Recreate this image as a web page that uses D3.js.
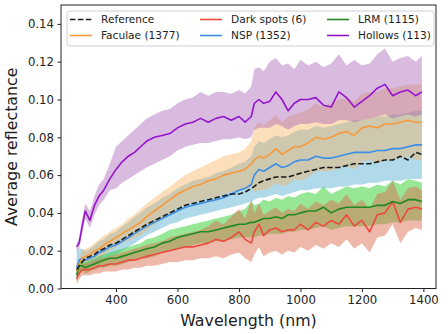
<!DOCTYPE html>
<html>
<head>
<meta charset="utf-8">
<script src="https://cdn.jsdelivr.net/npm/d3@7"></script>
<style>
  body { margin: 0; background: #fff; }
  svg { display: block; font-family: "DejaVu Sans", sans-serif; }
</style>
</head>
<body>
<script>
// wavelength grid (nm)
var wavelength = [272, 280, 290, 300, 315, 330, 345, 360, 380, 400, 420, 440, 460, 480, 500, 525, 550, 575, 600, 625, 650, 675, 700, 725, 750, 775, 800, 820, 840, 850, 865, 880, 900, 920, 940, 960, 980, 1000, 1025, 1050, 1075, 1100, 1125, 1150, 1175, 1200, 1225, 1250, 1275, 1300, 1325, 1350, 1375, 1395];

// mean spectra
var reference = [.010, .012, .014, .016, .017, .018, .020, .021, .023, .024, .026, .028, .030, .032, .034, .036, .038, .040, .042, .044, .045, .046, .047, .048, .049, .050, .050, .051, .053, .054, .056, .057, .058, .059, .059, .059, .060, .061, .062, .063, .064, .064, .064, .065, .066, .066, .066, .067, .068, .068, .070, .068, .072, .071];
var faculae = [.009, .013, .016, .017, .018, .020, .021, .023, .025, .027, .029, .031, .033, .035, .038, .041, .044, .047, .050, .052, .054, .055, .057, .058, .060, .061, .062, .063, .066, .068, .070, .069, .071, .074, .071, .073, .075, .075, .077, .080, .079, .080, .082, .083, .081, .085, .086, .085, .087, .087, .088, .089, .088, .088];
var darkSpots = [.005, .008, .010, .010, .010, .011, .012, .012, .013, .013, .014, .015, .015, .016, .017, .018, .019, .020, .021, .022, .022, .023, .024, .026, .025, .027, .030, .026, .024, .030, .034, .028, .031, .032, .030, .031, .031, .034, .031, .035, .033, .036, .034, .039, .033, .036, .030, .039, .040, .046, .035, .042, .043, .042];
var nsp = [.011, .015, .016, .015, .016, .017, .019, .020, .022, .023, .025, .027, .029, .031, .033, .035, .037, .039, .041, .043, .044, .045, .046, .047, .048, .050, .052, .053, .055, .060, .063, .062, .064, .066, .064, .065, .067, .068, .068, .070, .069, .069, .070, .071, .072, .072, .072, .073, .073, .074, .074, .075, .076, .076];
var lrm = [.007, .012, .012, .011, .012, .013, .014, .015, .016, .016, .017, .018, .019, .020, .021, .022, .024, .025, .027, .028, .029, .030, .030, .031, .032, .033, .034, .034, .035, .035, .036, .037, .037, .038, .037, .039, .039, .040, .041, .041, .043, .040, .042, .043, .043, .043, .043, .044, .044, .046, .045, .047, .047, .046];
var hollows = [.022, .024, .033, .041, .036, .044, .049, .052, .058, .063, .067, .070, .072, .075, .078, .080, .081, .082, .085, .087, .088, .090, .088, .090, .091, .089, .091, .088, .091, .098, .100, .098, .099, .104, .100, .094, .098, .100, .100, .101, .097, .096, .104, .101, .096, .099, .102, .106, .108, .102, .104, .105, .102, .104];

// spread of each class (lower / upper edge)
var faculaeLo = [.007, .010, .012, .013, .014, .016, .016, .018, .020, .022, .024, .025, .027, .028, .031, .034, .037, .040, .043, .044, .046, .046, .048, .048, .050, .051, .052, .052, .054, .051, .052, .052, .053, .056, .054, .055, .058, .057, .059, .062, .062, .062, .064, .065, .063, .067, .068, .066, .068, .068, .069, .070, .068, .068];
var faculaeHi = [.011, .016, .020, .021, .022, .024, .026, .028, .030, .032, .034, .037, .039, .042, .045, .048, .051, .054, .057, .060, .062, .064, .066, .068, .070, .071, .072, .074, .078, .085, .088, .086, .089, .092, .088, .091, .092, .093, .095, .098, .096, .098, .100, .101, .099, .103, .104, .104, .106, .106, .107, .108, .108, .108];
var darkSpotsLo = [.002, .005, .007, .007, .007, .008, .008, .009, .009, .009, .010, .010, .011, .011, .012, .012, .013, .014, .014, .015, .015, .016, .016, .017, .016, .018, .019, .016, .014, .018, .022, .017, .019, .020, .018, .020, .019, .022, .020, .023, .021, .024, .022, .026, .021, .024, .019, .027, .028, .034, .024, .030, .032, .031];
var darkSpotsHi = [.008, .011, .013, .013, .014, .015, .016, .016, .017, .018, .019, .020, .021, .022, .023, .024, .025, .027, .028, .029, .030, .031, .033, .036, .034, .038, .042, .037, .047, .040, .045, .039, .041, .043, .040, .042, .041, .045, .042, .046, .044, .047, .045, .050, .044, .047, .042, .050, .051, .057, .047, .053, .054, .052];
var nspLo = [.006, .009, .011, .011, .012, .013, .014, .015, .017, .018, .020, .022, .024, .026, .028, .030, .032, .034, .035, .037, .038, .039, .040, .041, .042, .043, .044, .045, .046, .047, .048, .048, .049, .050, .049, .050, .051, .052, .052, .053, .053, .053, .054, .054, .055, .055, .056, .056, .057, .057, .057, .058, .058, .058];
var nspHi = [.019, .021, .021, .020, .021, .023, .025, .026, .029, .030, .033, .035, .038, .040, .043, .045, .048, .050, .053, .055, .057, .058, .059, .061, .062, .064, .066, .067, .070, .075, .078, .077, .079, .081, .080, .081, .083, .084, .084, .086, .085, .086, .087, .088, .089, .089, .090, .091, .091, .092, .092, .093, .094, .094];
var lrmLo = [.004, .008, .009, .008, .009, .010, .011, .011, .012, .012, .013, .014, .015, .016, .016, .017, .019, .020, .021, .022, .023, .024, .024, .025, .025, .026, .027, .027, .027, .027, .028, .028, .029, .029, .029, .030, .030, .031, .031, .032, .033, .031, .032, .033, .033, .033, .033, .034, .034, .035, .035, .036, .036, .036];
var lrmHi = [.010, .015, .015, .014, .015, .016, .017, .018, .019, .020, .021, .022, .023, .024, .026, .027, .029, .031, .032, .033, .034, .035, .036, .037, .038, .039, .041, .042, .046, .044, .045, .047, .046, .048, .047, .049, .048, .050, .051, .050, .054, .050, .052, .054, .053, .054, .053, .055, .054, .057, .055, .058, .057, .056];
var hollowsLo = [.019, .021, .029, .037, .032, .039, .044, .047, .052, .053, .056, .058, .060, .062, .064, .066, .068, .070, .073, .075, .076, .077, .077, .078, .079, .079, .080, .079, .080, .084, .085, .085, .085, .087, .086, .084, .086, .087, .087, .088, .087, .087, .089, .089, .088, .089, .090, .091, .092, .090, .091, .092, .091, .092];
var hollowsHi = [.024, .027, .037, .045, .041, .049, .055, .058, .066, .075, .078, .081, .084, .087, .090, .092, .094, .095, .098, .100, .101, .104, .102, .104, .104, .103, .105, .103, .107, .116, .117, .115, .120, .122, .118, .119, .116, .121, .118, .120, .117, .119, .124, .118, .121, .118, .119, .124, .127, .120, .122, .123, .120, .123];

var yTicks = [0, 0.02, 0.04, 0.06, 0.08, 0.10, 0.12, 0.14];
var xTicks = [400, 600, 800, 1000, 1200, 1400];

var series = [
    {name: "Reference", mean: reference, color: "#1a1a1a", dash: "5.5,2.4"},
    {name: "Faculae (1377)", mean: faculae, lo: faculaeLo, hi: faculaeHi, color: "#f7993a", fill: "#f9b25a", op: 0.42},
    {name: "Dark spots (6)", mean: darkSpots, lo: darkSpotsLo, hi: darkSpotsHi, color: "#ee4a3c", fill: "#dc6a4e", op: 0.48},
    {name: "NSP (1352)", mean: nsp, lo: nspLo, hi: nspHi, color: "#3a8ee8", fill: "#7cc0dc", op: 0.6},
    {name: "LRM (1115)", mean: lrm, lo: lrmLo, hi: lrmHi, color: "#1f8a1f", fill: "#2fd02f", op: 0.5},
    {name: "Hollows (113)", mean: hollows, lo: hollowsLo, hi: hollowsHi, color: "#9414cc", fill: "#a55cb5", op: 0.42}
];

var width = 448,
    height = 334;
var margin = {top: 5, right: 12, bottom: 45.5, left: 61};

var svg = d3.select("body").append("svg")
    .attr("width", width)
    .attr("height", height);

var x = d3.scaleLinear()
    .domain([221, 1441])
    .range([margin.left, width - margin.right]);

var y = d3.scaleLinear()
    .domain([0, 0.15])
    .range([height - margin.bottom, margin.top]);

// bands first, lines on top
var bandOrder = [3, 1, 4, 2, 5];
bandOrder.forEach(function(i){
    var s = series[i];
    var area = d3.area()
        .x(function(d, k){ return x(wavelength[k]); })
        .y0(function(d, k){ return y(s.lo[k]); })
        .y1(function(d, k){ return y(s.hi[k]); });
    svg.append("path")
        .datum(s.mean)
        .attr("d", area)
        .attr("fill", s.fill)
        .attr("fill-opacity", s.op);
});

var line = d3.line()
    .x(function(d, k){ return x(wavelength[k]); })
    .y(function(d){ return y(d); });

var lineOrder = [2, 4, 3, 1, 0, 5];
lineOrder.forEach(function(i){
    var s = series[i];
    svg.append("path")
        .datum(s.mean)
        .attr("d", line)
        .attr("fill", "none")
        .attr("stroke", s.color)
        .attr("stroke-width", 1.6)
        .attr("stroke-linejoin", "round")
        .attr("stroke-dasharray", s.dash || null);
});

// axes
var xAxis = svg.append("g")
    .attr("transform", "translate(0," + (height - margin.bottom) + ")")
    .call(d3.axisBottom(x).tickValues(xTicks).tickSize(3.5).tickPadding(3.5).tickFormat(d3.format("d")));

var yAxis = svg.append("g")
    .attr("transform", "translate(" + margin.left + ",0)")
    .call(d3.axisLeft(y).tickValues(yTicks).tickSize(3.5).tickPadding(3.5).tickFormat(d3.format(".2f")));

[xAxis, yAxis].forEach(function(g){
    g.select(".domain").remove();
    g.selectAll("text").attr("font-size", 11.7).attr("fill", "#222").attr("font-family", "DejaVu Sans");
    g.selectAll("line").attr("stroke", "#222");
});

// frame
svg.append("rect")
    .attr("x", margin.left)
    .attr("y", margin.top)
    .attr("width", width - margin.left - margin.right)
    .attr("height", height - margin.top - margin.bottom)
    .attr("fill", "none")
    .attr("stroke", "#222")
    .attr("stroke-width", 1);

svg.append("text")
    .attr("x", (margin.left + width - margin.right) / 2)
    .attr("y", 326)
    .attr("text-anchor", "middle")
    .attr("font-size", 15.8)
    .attr("fill", "#222")
    .text("Wavelength (nm)");

svg.append("text")
    .attr("transform", "translate(17," + ((margin.top + height - margin.bottom) / 2) + ") rotate(-90)")
    .attr("text-anchor", "middle")
    .attr("font-size", 15.8)
    .attr("fill", "#222")
    .text("Average reflectance");

// legend, three columns
var legend = svg.append("g");
legend.append("rect")
    .attr("x", 67).attr("y", 11)
    .attr("width", 367).attr("height", 35)
    .attr("rx", 3)
    .attr("fill", "#fff").attr("fill-opacity", 0.8)
    .attr("stroke", "#d0d0d0");

var colX = [70, 200, 327],
    rowY = [19.5, 35.5];

series.forEach(function(s, i){
    var cx = colX[Math.floor(i / 2)],
        cy = rowY[i % 2];
    legend.append("line")
        .attr("x1", cx).attr("x2", cx + 22)
        .attr("y1", cy).attr("y2", cy)
        .attr("stroke", s.color)
        .attr("stroke-width", 1.6)
        .attr("stroke-dasharray", s.dash || null);
    legend.append("text")
        .attr("x", cx + 31)
        .attr("y", cy + 3.8)
        .attr("font-size", 10.6)
        .attr("fill", "#222")
        .text(s.name);
});
</script>
</body>
</html>
